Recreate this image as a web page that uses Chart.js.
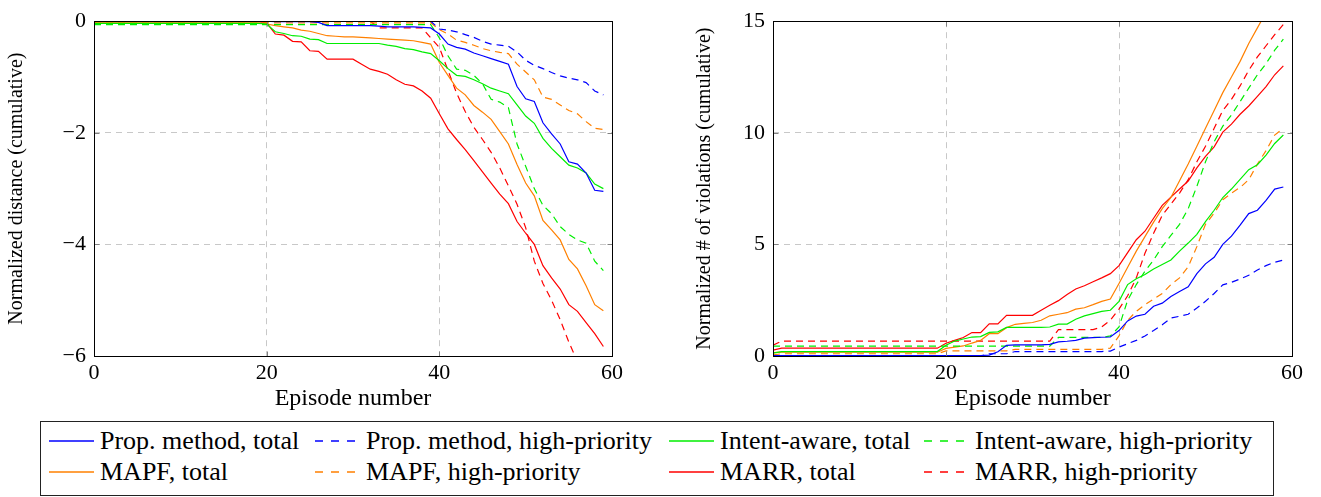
<!DOCTYPE html>
<html>
<head>
<meta charset="utf-8">
<script src="https://cdn.jsdelivr.net/npm/chart.js@4.4.1/dist/chart.umd.min.js"></script>
<style>
  body { margin: 0; width: 1321px; height: 497px; background: #fff; position: relative; overflow: hidden;
         font-family: "Times New Roman", "Liberation Serif", Times, serif; color: #000; }
  #chart-dist { position: absolute; left: 0; top: 0; }
  #chart-viol { position: absolute; left: 688px; top: 0; }
  #legend { position: absolute; left: 40px; top: 421px; width: 1232px; height: 73px; border: 1px solid #222; }
  .legend-item { position: absolute; display: flex; align-items: center; height: 30px; font-size: 26px; white-space: nowrap; }
  .legend-item svg { margin-right: 6px; flex: none; }
</style>
</head>
<body>
<canvas id="chart-dist" width="640" height="415"></canvas>
<canvas id="chart-viol" width="633" height="415"></canvas>
<div id="legend"></div>
<script>
const episodes = Array.from({ length: 60 }, (_, i) => i);

const seriesNames = ["Prop. method, total", "Prop. method, high-priority", "Intent-aware, total", "Intent-aware, high-priority",
  "MAPF, total", "MAPF, high-priority", "MARR, total", "MARR, high-priority"];
const seriesColors = ["#0000ff", "#0000ff", "#00ee00", "#00ee00", "#ff8000", "#ff8000", "#ff0000", "#ff0000"];
const seriesDashed = [false, true, false, true, false, true, false, true];

const xTicks = [0, 20, 40, 60];
const distTicks = [-6, -4, -2, 0];
const violTicks = [0, 5, 10, 15];

// normalized distance (cumulative)
const propTotalDist = [
  0, 0, 0, 0, 0, 0, 0, 0, 0, 0,
  0, 0, 0, 0, 0, 0, 0, 0, 0, 0,
  0, -0.01, -0.01, -0.01, -0.01, -0.01, -0.02, -0.08, -0.08, -0.08,
  -0.08, -0.08, -0.08, -0.09, -0.1, -0.1, -0.1, -0.1, -0.11, -0.12,
  -0.23, -0.41, -0.47, -0.5, -0.57, -0.62, -0.67, -0.72, -0.77, -1.17,
  -1.39, -1.44, -1.82, -2.02, -2.2, -2.52, -2.56, -2.72, -3.03, -3.05];
const propHighDist = [
  0, 0, 0, 0, 0, 0, 0, 0, 0, 0,
  0, 0, 0, 0, 0, 0, 0, 0, 0, 0,
  0, 0, 0, 0, 0, 0, 0, 0, 0, 0,
  0, 0, 0, 0, 0, 0, 0, 0, 0, 0,
  -0.14, -0.16, -0.19, -0.24, -0.29, -0.36, -0.41, -0.43, -0.45, -0.55,
  -0.7, -0.79, -0.85, -0.92, -0.98, -1.02, -1.05, -1.1, -1.25, -1.32];
const intentTotalDist = [
  -0.04, -0.04, -0.04, -0.04, -0.04, -0.04, -0.04, -0.04, -0.04, -0.04,
  -0.04, -0.04, -0.04, -0.04, -0.04, -0.04, -0.04, -0.04, -0.04, -0.04,
  -0.05, -0.19, -0.22, -0.26, -0.27, -0.32, -0.33, -0.4, -0.4, -0.4,
  -0.4, -0.4, -0.4, -0.4, -0.43, -0.45, -0.49, -0.51, -0.55, -0.58,
  -0.71, -0.85, -0.97, -0.99, -1.05, -1.12, -1.2, -1.25, -1.3, -1.5,
  -1.7, -1.83, -2.1, -2.28, -2.43, -2.58, -2.63, -2.72, -2.92, -3.0];
const intentHighDist = [
  -0.06, -0.06, -0.06, -0.06, -0.06, -0.06, -0.06, -0.06, -0.06, -0.06,
  -0.06, -0.06, -0.06, -0.06, -0.06, -0.06, -0.06, -0.06, -0.06, -0.06,
  -0.06, -0.06, -0.06, -0.06, -0.06, -0.06, -0.06, -0.06, -0.06, -0.06,
  -0.06, -0.06, -0.06, -0.06, -0.06, -0.06, -0.06, -0.06, -0.06, -0.06,
  -0.3, -0.62, -0.86, -0.88, -0.97, -1.12, -1.4, -1.45, -1.55, -2.2,
  -2.6, -3.0, -3.3, -3.45, -3.68, -3.82, -3.92, -3.98, -4.3, -4.47];
const mapfTotalDist = [
  -0.03, -0.03, -0.03, -0.03, -0.03, -0.03, -0.03, -0.03, -0.03, -0.03,
  -0.03, -0.03, -0.03, -0.03, -0.03, -0.03, -0.03, -0.03, -0.03, -0.03,
  -0.05, -0.08, -0.1, -0.12, -0.16, -0.18, -0.22, -0.26, -0.27, -0.28,
  -0.28, -0.29, -0.3, -0.31, -0.32, -0.33, -0.34, -0.35, -0.38, -0.41,
  -0.74, -0.97, -1.2, -1.32, -1.51, -1.63, -1.76, -1.98, -2.2, -2.57,
  -2.9, -3.13, -3.57, -3.74, -3.92, -4.27, -4.44, -4.74, -5.08, -5.19];
const mapfHighDist = [
  -0.03, -0.03, -0.03, -0.03, -0.03, -0.03, -0.03, -0.03, -0.03, -0.03,
  -0.03, -0.03, -0.03, -0.03, -0.03, -0.03, -0.03, -0.03, -0.03, -0.03,
  -0.03, -0.03, -0.03, -0.03, -0.03, -0.03, -0.03, -0.03, -0.03, -0.03,
  -0.03, -0.03, -0.03, -0.03, -0.03, -0.03, -0.03, -0.03, -0.03, -0.03,
  -0.15, -0.23, -0.34, -0.38, -0.43, -0.49, -0.53, -0.56, -0.58, -0.77,
  -0.91, -1.05, -1.36, -1.4, -1.5, -1.6, -1.66, -1.8, -1.92, -1.94];
const marrTotalDist = [
  -0.01, -0.01, -0.01, -0.01, -0.01, -0.01, -0.01, -0.01, -0.01, -0.01,
  -0.01, -0.01, -0.01, -0.01, -0.01, -0.01, -0.01, -0.01, -0.01, -0.01,
  -0.03, -0.23, -0.25, -0.36, -0.37, -0.53, -0.54, -0.68, -0.68, -0.68,
  -0.68, -0.77, -0.86, -0.9, -0.95, -1.05, -1.13, -1.16, -1.25, -1.38,
  -1.66, -1.93, -2.12, -2.3, -2.5, -2.7, -2.9, -3.1, -3.27, -3.59,
  -3.8, -4.0, -4.38, -4.6, -4.8, -5.08, -5.2, -5.4, -5.6, -5.83];
const marrHighDist = [
  0, 0, 0, 0, 0, 0, 0, 0, 0, 0,
  0, 0, 0, 0, 0, 0, 0, 0, 0, 0,
  0, 0, 0, 0, 0, 0, 0, 0, 0, 0,
  0, 0, 0, -0.12, -0.12, -0.12, -0.12, -0.12, -0.12, -0.3,
  -0.47, -0.88, -1.29, -1.62, -1.9, -2.12, -2.35, -2.63, -2.95, -3.28,
  -3.7, -4.3, -4.7, -5.0, -5.35, -5.75, -6.1, -6.5, -6.9, -7.3];

// normalized # of violations (cumulative)
const propTotalViol = [
  0.02, 0.02, 0.02, 0.02, 0.02, 0.02, 0.02, 0.02, 0.02, 0.02,
  0.02, 0.02, 0.02, 0.02, 0.02, 0.02, 0.02, 0.02, 0.02, 0.02,
  0.02, 0.02, 0.02, 0.02, 0.02, 0.04, 0.19, 0.48, 0.5, 0.5,
  0.5, 0.5, 0.52, 0.63, 0.66, 0.7, 0.8, 0.82, 0.84, 0.85,
  1.14, 1.57, 1.79, 1.87, 2.23, 2.37, 2.67, 2.89, 3.1, 3.69,
  4.13, 4.42, 5.0, 5.37, 5.86, 6.38, 6.53, 6.97, 7.48, 7.57];
const propHighViol = [
  0, 0, 0, 0, 0, 0, 0, 0, 0, 0,
  0, 0, 0, 0, 0, 0, 0, 0, 0, 0,
  0, 0, 0, 0, 0, 0.1, 0.1, 0.1, 0.2, 0.2,
  0.2, 0.2, 0.2, 0.2, 0.2, 0.2, 0.2, 0.2, 0.2, 0.22,
  0.4, 0.55, 0.7, 0.9, 1.14, 1.4, 1.7, 1.78, 1.87, 2.15,
  2.45, 2.8, 3.19, 3.3, 3.45, 3.62, 3.85, 4.05, 4.2, 4.3];
const intentTotalViol = [
  0.13, 0.2, 0.2, 0.2, 0.2, 0.2, 0.2, 0.2, 0.2, 0.2,
  0.2, 0.2, 0.2, 0.2, 0.2, 0.2, 0.2, 0.2, 0.2, 0.2,
  0.48, 0.67, 0.76, 0.85, 0.87, 1.06, 1.08, 1.28, 1.28, 1.28,
  1.28, 1.28, 1.3, 1.43, 1.43, 1.65, 1.8, 1.9, 2.0, 2.05,
  2.45, 3.2, 3.46, 3.65, 3.9, 4.1, 4.3, 4.7, 5.06, 5.45,
  6.02, 6.53, 7.1, 7.48, 7.91, 8.35, 8.57, 9.0, 9.52, 9.9];
const intentHighViol = [
  0.44, 0.44, 0.44, 0.44, 0.44, 0.44, 0.44, 0.44, 0.44, 0.44,
  0.44, 0.44, 0.44, 0.44, 0.44, 0.44, 0.44, 0.44, 0.44, 0.44,
  0.44, 0.44, 0.44, 0.44, 0.44, 0.44, 0.44, 0.44, 0.44, 0.44,
  0.44, 0.44, 0.44, 0.83, 0.83, 0.83, 0.83, 0.83, 0.83, 0.9,
  1.3, 2.5, 3.2, 3.8, 4.3, 4.9, 5.4, 5.9, 6.6, 7.6,
  8.7, 9.6, 10.3, 10.8, 11.4, 12.0, 12.6, 13.1, 13.7, 14.2];
const mapfTotalViol = [
  0.15, 0.17, 0.17, 0.17, 0.17, 0.17, 0.17, 0.17, 0.17, 0.17,
  0.17, 0.17, 0.17, 0.17, 0.17, 0.17, 0.17, 0.17, 0.17, 0.17,
  0.34, 0.4, 0.45, 0.58, 0.7, 1.0, 1.0, 1.27, 1.42, 1.46,
  1.5, 1.6, 1.8, 1.87, 1.94, 2.1, 2.16, 2.3, 2.45, 2.55,
  3.25, 3.98, 4.7, 5.35, 6.0, 6.6, 7.1, 7.85, 8.6, 9.4,
  10.2, 11.0, 11.8, 12.5, 13.2, 14.0, 14.7, 15.4, 16.0, 16.6];
const mapfHighViol = [
  0.05, 0.1, 0.1, 0.1, 0.1, 0.1, 0.1, 0.1, 0.1, 0.1,
  0.1, 0.1, 0.1, 0.1, 0.1, 0.1, 0.1, 0.1, 0.1, 0.1,
  0.23, 0.23, 0.23, 0.23, 0.23, 0.23, 0.23, 0.23, 0.3, 0.3,
  0.3, 0.3, 0.3, 0.3, 0.3, 0.3, 0.3, 0.3, 0.3, 0.35,
  0.9, 1.6, 2.0, 2.3, 2.55, 2.8, 3.2, 3.5, 4.0, 4.9,
  5.9, 6.4, 7.0, 7.3, 7.55, 7.9, 8.6, 9.2, 9.9, 10.2];
const marrTotalViol = [
  0.26, 0.35, 0.35, 0.35, 0.35, 0.35, 0.35, 0.35, 0.35, 0.35,
  0.35, 0.35, 0.35, 0.35, 0.35, 0.35, 0.35, 0.35, 0.35, 0.35,
  0.57, 0.7, 0.83, 1.05, 1.05, 1.44, 1.44, 1.82, 1.82, 1.82,
  1.82, 2.05, 2.27, 2.48, 2.75, 3.0, 3.15, 3.33, 3.5, 3.69,
  4.05, 4.63, 5.21, 5.59, 6.17, 6.75, 7.12, 7.48, 7.84, 8.43,
  8.94, 9.37, 10.03, 10.39, 10.83, 11.2, 11.63, 12.07, 12.6, 13.0];
const marrHighViol = [
  0.48, 0.67, 0.67, 0.67, 0.67, 0.67, 0.67, 0.67, 0.67, 0.67,
  0.67, 0.67, 0.67, 0.67, 0.67, 0.67, 0.67, 0.67, 0.67, 0.67,
  0.67, 0.67, 0.67, 0.67, 0.67, 0.67, 0.67, 0.67, 0.67, 0.67,
  0.67, 0.67, 0.67, 1.18, 1.18, 1.18, 1.18, 1.18, 1.3, 1.6,
  2.1, 2.7, 3.5, 4.6, 5.5, 6.3, 6.8, 7.3, 7.9, 8.7,
  9.4, 10.2, 11.0, 11.5, 12.1, 12.8, 13.4, 13.9, 14.4, 14.85];

const distSeries = [propTotalDist, propHighDist, intentTotalDist, intentHighDist, mapfTotalDist, mapfHighDist, marrTotalDist, marrHighDist];
const violSeries = [propTotalViol, propHighViol, intentTotalViol, intentHighViol, mapfTotalViol, mapfHighViol, marrTotalViol, marrHighViol];

const SERIF = "'Times New Roman', 'Liberation Serif', Times, serif";

function buildDatasets(seriesList) {
  return seriesList.map((values, i) => ({
    label: seriesNames[i],
    data: values.map((v, k) => ({ x: episodes[k], y: v })),
    borderColor: seriesColors[i],
    borderWidth: 1.2,
    borderDash: seriesDashed[i] ? [7, 5] : [],
    pointRadius: 0,
    tension: 0,
    fill: false,
  }));
}

// pgfplots-style frame with small inward tick marks
const framePlugin = {
  id: "frame",
  afterDatasetsDraw(chart) {
    const { ctx, chartArea: a, scales } = chart;
    const L = Math.round(a.left) + 0.5, R = Math.round(a.right) + 0.5;
    const T = Math.round(a.top) + 0.5, B = Math.round(a.bottom) + 0.5;
    ctx.save();
    ctx.strokeStyle = "#808080";
    ctx.lineWidth = 1;
    ctx.beginPath();
    scales.x.ticks.forEach((t) => {
      const px = Math.round(scales.x.getPixelForValue(t.value)) + 0.5;
      ctx.moveTo(px, B); ctx.lineTo(px, B - 5);
      ctx.moveTo(px, T); ctx.lineTo(px, T + 5);
    });
    scales.y.ticks.forEach((t) => {
      const py = Math.round(scales.y.getPixelForValue(t.value)) + 0.5;
      ctx.moveTo(L, py); ctx.lineTo(L + 5, py);
      ctx.moveTo(R, py); ctx.lineTo(R - 5, py);
    });
    ctx.stroke();
    ctx.strokeStyle = "#000";
    ctx.strokeRect(L, T, R - L, B - T);
    ctx.restore();
  },
};

function gridColor(ctx) {
  const ticks = ctx.scale.ticks;
  if (ctx.index === 0 || ctx.index === ticks.length - 1) return "rgba(0,0,0,0)";
  return "#c8c8c8";
}

function makeChart(canvas, seriesList, yTicks, yTitle, yAxisWidth, padding) {
  return new Chart(canvas, {
    type: "line",
    data: { datasets: buildDatasets(seriesList) },
    plugins: [framePlugin],
    options: {
      responsive: false,
      animation: false,
      layout: { padding },
      plugins: { legend: { display: false }, tooltip: { enabled: false } },
      scales: {
        x: {
          type: "linear",
          min: xTicks[0],
          max: xTicks[xTicks.length - 1],
          afterBuildTicks: (scale) => { scale.ticks = xTicks.map((v) => ({ value: v })); },
          afterFit: (scale) => { scale.height = 59; },
          grid: { color: gridColor, lineWidth: 1, drawTicks: false },
          border: { display: false, dash: [6, 5] },
          ticks: { color: "#000", padding: 4, font: { family: SERIF, size: 22 } },
          title: { display: true, text: "Episode number", color: "#000", padding: { top: 0, bottom: 2 },
                   font: { family: SERIF, size: 24 } },
        },
        y: {
          type: "linear",
          min: yTicks[0],
          max: yTicks[yTicks.length - 1],
          afterBuildTicks: (scale) => { scale.ticks = yTicks.map((v) => ({ value: v })); },
          afterFit: (scale) => { scale.width = yAxisWidth; },
          grid: { color: gridColor, lineWidth: 1, drawTicks: false },
          border: { display: false, dash: [6, 5] },
          ticks: {
            color: "#000", padding: 8, font: { family: SERIF, size: 22 },
            callback: (v) => (v < 0 ? "\u2212" + Math.abs(v) : String(v)),
          },
          title: { display: true, text: yTitle, color: "#000", padding: { top: 5, bottom: 0 },
                   font: { family: SERIF, size: 20 } },
        },
      },
    },
  });
}

function buildLegend() {
  const legendEl = document.getElementById("legend");
  const colLeft = [8, 274, 628, 883];
  const rowTop = [4, 35];
  legendEl.innerHTML = seriesNames.map((name, i) => {
    const col = i % 4, row = Math.floor(i / 4);
    const dash = seriesDashed[i] ? ' stroke-dasharray="8,8"' : "";
    const len = seriesDashed[i] ? 40 : 45;
    return `<div class="legend-item" style="left:${colLeft[col]}px;top:${rowTop[row]}px">
      <svg width="45" height="4"><line x1="0" y1="2" x2="${len}" y2="2" stroke="${seriesColors[i]}" stroke-width="1.3"${dash}/></svg>
      <span>${name}</span></div>`;
  }).join("");
}

makeChart(document.getElementById("chart-dist"), distSeries, distTicks, "Normalized distance (cumulative)", 94,
  { top: 13, right: 28, bottom: 0, left: 0 });
makeChart(document.getElementById("chart-viol"), violSeries, violTicks, "Normalized # of violations (cumulative)", 85,
  { top: 13, right: 29, bottom: 0, left: 0 });
buildLegend();
</script>
</body>
</html>
